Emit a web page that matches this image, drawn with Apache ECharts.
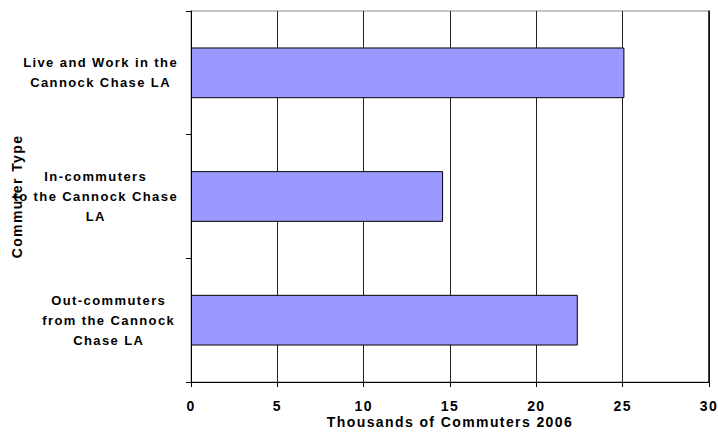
<!DOCTYPE html>
<html>
<head>
<meta charset="utf-8">
<script src="https://cdn.jsdelivr.net/npm/echarts@6/dist/echarts.min.js"></script>
<style>
  html, body { margin: 0; padding: 0; background: #fff; overflow: hidden; }
  #chart { width: 718px; height: 432px; }
  /* loose tracking for all chart text */
  #chart svg text, #chart svg tspan { letter-spacing: 1.4px; }
</style>
</head>
<body>
<div id="chart"></div>
<script>
// Commuter types (top to bottom) and their counts, in thousands
const categories = [
  ['Live and Work in the', 'Cannock Chase LA'],
  ['In-commuters', 'to the Cannock Chase', 'LA'],
  ['Out-commuters', 'from the Cannock', 'Chase LA']
];
const commuters = [25.1, 14.6, 22.4];
const xTicks = [0, 5, 10, 15, 20, 25, 30];

const FONT = 'Liberation Sans, Arial, sans-serif';
const chart = echarts.init(document.getElementById('chart'), null, { renderer: 'svg' });

const categoryData = categories.map(lines => lines.join('\n'));

chart.setOption({
  animation: false,
  backgroundColor: '#fff',
  grid: {
    left: 191, right: 9, top: 11, bottom: 50,
    outerBoundsMode: 'none',
    containLabel: false,
    show: true, borderColor: '#8c8c8c', borderWidth: 1
  },
  xAxis: {
    type: 'value',
    min: xTicks[0],
    max: xTicks[xTicks.length - 1],
    interval: xTicks[1] - xTicks[0],
    name: 'Thousands of Commuters 2006',
    nameLocation: 'middle',
    nameGap: 33,
    nameMoveOverlap: false,
    nameTextStyle: { fontFamily: FONT, fontWeight: 'bold', fontSize: 14, color: '#000' },
    axisLine: { show: true, lineStyle: { color: '#000', width: 1 } },
    axisTick: { show: true, length: 5, lineStyle: { color: '#000' } },
    axisLabel: { fontFamily: FONT, fontWeight: 'bold', fontSize: 14, color: '#000', margin: 17 },
    splitLine: { show: true, lineStyle: { color: '#222', width: 1 } }
  },
  yAxis: [{
    type: 'category',
    inverse: true,
    data: categoryData,
    name: 'Commuter Type',
    nameLocation: 'middle',
    nameGap: 167,
    nameRotate: 90,
    nameMoveOverlap: false,
    nameTextStyle: { fontFamily: FONT, fontWeight: 'bold', fontSize: 14, color: '#000' },
    axisLine: { show: true, lineStyle: { color: '#000', width: 1 } },
    axisTick: { show: true, length: 5, lineStyle: { color: '#000' } },
    axisLabel: {
      align: 'right',
      margin: 27,
      formatter: v => v.split('\n').map(s => '{c|' + s + '}').join('\n'),
      rich: {
        c: { align: 'center', fontFamily: FONT, fontWeight: 'bold', fontSize: 13, color: '#000', lineHeight: 20 }
      }
    }
  }, {
    // right-hand frame edge of the plot area
    type: 'category',
    position: 'right',
    inverse: true,
    data: categoryData,
    axisLine: { show: true, lineStyle: { color: '#111', width: 1.5 } },
    axisTick: { show: false },
    axisLabel: { show: false },
    splitLine: { show: false }
  }],
  series: [{
    type: 'bar',
    data: commuters,
    barCategoryGap: '59%',
    itemStyle: { color: '#9999ff', borderColor: '#000', borderWidth: 1 }
  }]
});
</script>
</body>
</html>
